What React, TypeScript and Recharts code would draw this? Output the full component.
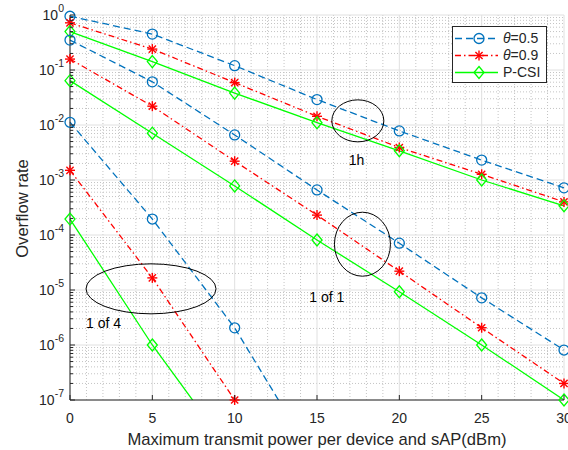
import { CartesianGrid, Legend, Line, LineChart, ReferenceDot, XAxis, YAxis } from 'recharts'

// x: maximum transmit power (dBm)
const power = [0, 5, 10, 15, 20, 25, 30]

// group "1h"
const h1Theta05 = [0.95, 0.45, 0.12, 0.029, 0.0078, 0.0023, 0.00072]
const h1Theta09 = [0.72, 0.24, 0.059, 0.0144, 0.0039, 0.00127, 0.0004]
const h1Pcsi = [0.5, 0.142, 0.038, 0.011, 0.0034, 0.001, 0.00034]

// group "1 of 1"
const o1Theta05 = [0.35, 0.061, 0.0066, 0.00066, 7.1e-5, 7.2e-6, 8.1e-7]
const o1Theta09 = [0.158, 0.022, 0.0022, 2.3e-4, 2.2e-5, 2.06e-6, 2.0e-7]
const o1Pcsi = [0.064, 0.0071, 0.00078, 8.1e-5, 9.3e-6, 1.0e-6, 1.0e-7]

// group "1 of 4" (runs off the bottom of the axes)
const o4Theta05 = [0.0112, 1.95e-4, 2.05e-6, 7e-9, null, null, null]
const o4Theta09 = [1.5e-3, 1.66e-5, 1.0e-7, null, null, null, null]
const o4Pcsi = [1.95e-4, 1.0e-6, 9e-9, null, null, null, null]

const xTicks = [0, 5, 10, 15, 20, 25, 30]
const yTicks = [1e-7, 1e-6, 1e-5, 1e-4, 1e-3, 1e-2, 1e-1, 1]
const yMin = 1e-7

const minorY = yTicks.slice(0, -1).flatMap((t) => [2, 3, 4, 5, 6, 7, 8, 9].map((m) => m * t))
const minorX = Array.from({ length: 31 }, (_, i) => i).filter((v) => v % 5 !== 0)
const allY = [...yTicks, ...minorY].sort((a, b) => a - b)

const AXIS = '#262626'
const FONT = '"Liberation Sans", Arial, Helvetica, sans-serif'

type Kind = 't05' | 't09' | 'pcsi'

const kinds: Record<Kind, { color: string; dash?: string; marker: string }> = {
  t05: { color: '#0072BD', dash: '7 4', marker: 'circle' },
  t09: { color: '#FF0000', dash: '6 3 1.5 3', marker: 'star' },
  pcsi: { color: '#00FF00', marker: 'diamond' },
}

const series: { key: string; kind: Kind; values: (number | null)[] }[] = [
  { key: 'h1t05', kind: 't05', values: h1Theta05 },
  { key: 'h1t09', kind: 't09', values: h1Theta09 },
  { key: 'h1pcsi', kind: 'pcsi', values: h1Pcsi },
  { key: 'o1t05', kind: 't05', values: o1Theta05 },
  { key: 'o1t09', kind: 't09', values: o1Theta09 },
  { key: 'o1pcsi', kind: 'pcsi', values: o1Pcsi },
  { key: 'o4t05', kind: 't05', values: o4Theta05 },
  { key: 'o4t09', kind: 't09', values: o4Theta09 },
  { key: 'o4pcsi', kind: 'pcsi', values: o4Pcsi },
]

const data = power.map((p, i) => {
  const row: Record<string, number | null> = { power: p }
  series.forEach((s) => {
    row[s.key] = s.values[i]
  })
  return row
})

const ellipses = [
  { x: 17.48, y: 0.0119, rx: 26, ry: 21 },
  { x: 17.76, y: 6.8e-5, rx: 28, ry: 32 },
  { x: 4.92, y: 1.05e-5, rx: 65, ry: 25 },
]

const notes = [
  { x: 17.4, y: 2.31e-3, text: '1h' },
  { x: 15.6, y: 7.6e-6, text: '1 of 1' },
  { x: 2.04, y: 2.48e-6, text: '1 of 4' },
]

const legendItems: { kind: Kind; label: React.ReactNode }[] = [
  { kind: 't05', label: <><i>θ</i>=0.5</> },
  { kind: 't09', label: <><i>θ</i>=0.9</> },
  { kind: 'pcsi', label: 'P-CSI' },
]

const isMajor = (v: number) => Math.abs(Math.log10(v) - Math.round(Math.log10(v))) < 1e-6

function Marker({ cx, cy, kind }: { cx?: number; cy?: number; kind: Kind }) {
  if (cx == null || cy == null || Number.isNaN(cx) || Number.isNaN(cy)) return null
  const { color, marker } = kinds[kind]
  if (marker === 'circle') {
    return <circle cx={cx} cy={cy} r={5} fill="none" stroke={color} strokeWidth={1.3} />
  }
  if (marker === 'diamond') {
    return (
      <polygon
        points={`${cx},${cy - 6} ${cx + 5},${cy} ${cx},${cy + 6} ${cx - 5},${cy}`}
        fill="none"
        stroke={color}
        strokeWidth={1.3}
      />
    )
  }
  const s = 5
  const d = 3.6
  return (
    <g stroke={color} strokeWidth={1.4}>
      <line x1={cx - s} x2={cx + s} y1={cy} y2={cy} />
      <line x1={cx} x2={cx} y1={cy - s} y2={cy + s} />
      <line x1={cx - d} x2={cx + d} y1={cy - d} y2={cy + d} />
      <line x1={cx - d} x2={cx + d} y1={cy + d} y2={cy - d} />
    </g>
  )
}

function LeftTick({ x, y, payload }: any) {
  const v = payload.value as number
  const major = isMajor(v)
  return (
    <g>
      <line x1={x} x2={x + (major ? 5 : 3)} y1={y} y2={y} stroke={AXIS} />
      {major && (
        <text x={x - 6} y={y + 5} textAnchor="end" fill={AXIS} fontFamily={FONT} fontSize={14}>
          10
          <tspan dy={-8} fontSize={10.5}>
            {String(Math.round(Math.log10(v)))}
          </tspan>
        </text>
      )}
    </g>
  )
}

function RightTick({ x, y, payload }: any) {
  const major = isMajor(payload.value as number)
  return <line x1={x} x2={x - (major ? 5 : 3)} y1={y} y2={y} stroke={AXIS} />
}

function BottomTick({ x, y, payload }: any) {
  return (
    <g>
      <line x1={x} x2={x} y1={y} y2={y - 5} stroke={AXIS} />
      <text x={x} y={y + 23} textAnchor="middle" fill={AXIS} fontFamily={FONT} fontSize={14}>
        {payload.value}
      </text>
    </g>
  )
}

function TopTick({ x, y }: any) {
  return <line x1={x} x2={x} y1={y} y2={y + 5} stroke={AXIS} />
}

function LegendBox() {
  return (
    <div
      style={{
        boxSizing: 'border-box',
        width: 95,
        height: 57,
        border: `1px solid ${AXIS}`,
        background: '#fff',
        paddingTop: 3,
        fontFamily: FONT,
        fontSize: 14,
        color: AXIS,
      }}
    >
      {legendItems.map((item) => {
        const k = kinds[item.kind]
        return (
          <div key={item.kind} style={{ display: 'flex', alignItems: 'center', height: 17 }}>
            <svg width={50} height={17} style={{ display: 'block' }}>
              <line x1={2} x2={45} y1={8.5} y2={8.5} stroke={k.color} strokeWidth={1.3} strokeDasharray={k.dash} />
              <Marker cx={26} cy={8.5} kind={item.kind} />
            </svg>
            <span style={{ lineHeight: '17px' }}>{item.label}</span>
          </div>
        )
      })}
    </div>
  )
}

export default function App() {
  return (
    <div style={{ position: 'absolute', left: 0, top: 0, background: '#fff' }}>
      <LineChart width={568} height={450} data={data} margin={{ top: 15, right: 4, bottom: 0, left: 0 }}>
        <CartesianGrid horizontalValues={minorY} verticalValues={minorX} stroke="#c4c4c4" strokeDasharray="1 2" />
        <CartesianGrid horizontalValues={yTicks} verticalValues={xTicks} stroke="#e0e0e0" />
        <XAxis
          dataKey="power"
          type="number"
          domain={[0, 30]}
          ticks={xTicks}
          interval={0}
          height={50}
          tickSize={0}
          tickMargin={0}
          tickLine={false}
          tick={<BottomTick />}
          axisLine={{ stroke: AXIS }}
          label={{
            content: ({ viewBox }: any) => (
              <text
                x={viewBox.x + viewBox.width / 2}
                y={viewBox.y + 45}
                textAnchor="middle"
                fill={AXIS}
                fontFamily={FONT}
                fontSize={16.6}
              >
                Maximum transmit power per device and sAP(dBm)
              </text>
            ),
          }}
        />
        <XAxis
          xAxisId="top"
          orientation="top"
          dataKey="power"
          type="number"
          domain={[0, 30]}
          ticks={xTicks}
          interval={0}
          height={0}
          tickSize={0}
          tickMargin={0}
          tickLine={false}
          tick={<TopTick />}
          axisLine={{ stroke: AXIS }}
        />
        <YAxis
          scale="log"
          type="number"
          domain={[yMin, 1]}
          allowDataOverflow
          ticks={allY}
          interval={0}
          width={70}
          tickSize={0}
          tickMargin={0}
          tickLine={false}
          tick={<LeftTick />}
          axisLine={{ stroke: AXIS }}
          label={{
            content: ({ viewBox }: any) => {
              const cx = viewBox.x + 28
              const cy = viewBox.y + viewBox.height / 2 + 1
              return (
                <text
                  x={cx}
                  y={cy}
                  transform={`rotate(-90 ${cx} ${cy})`}
                  textAnchor="middle"
                  fill={AXIS}
                  fontFamily={FONT}
                  fontSize={16.6}
                >
                  Overflow rate
                </text>
              )
            },
          }}
        />
        <YAxis
          yAxisId="r"
          orientation="right"
          scale="log"
          type="number"
          domain={[yMin, 1]}
          ticks={allY}
          interval={0}
          width={0}
          tickSize={0}
          tickMargin={0}
          tickLine={false}
          tick={<RightTick />}
          axisLine={{ stroke: AXIS }}
        />
        {ellipses.map((e, i) => (
          <ReferenceDot
            key={`ell-${i}`}
            x={e.x}
            y={e.y}
            r={0}
            ifOverflow="visible"
            shape={(p: any) => <ellipse cx={p.cx} cy={p.cy} rx={e.rx} ry={e.ry} fill="none" stroke="#000" strokeWidth={1} />}
          />
        ))}
        {notes.map((n, i) => (
          <ReferenceDot
            key={`note-${i}`}
            x={n.x}
            y={n.y}
            r={0}
            ifOverflow="visible"
            shape={(p: any) => (
              <text x={p.cx} y={p.cy + 5} textAnchor="middle" fill="#000" fontFamily={FONT} fontSize={14}>
                {n.text}
              </text>
            )}
          />
        ))}
        {series.map((s) => (
          <Line
            key={s.key}
            dataKey={s.key}
            type="linear"
            stroke={kinds[s.kind].color}
            strokeWidth={1.3}
            strokeDasharray={kinds[s.kind].dash}
            dot={false}
            activeDot={false}
            isAnimationActive={false}
          />
        ))}
        {/* markers on the unclipped right axis so they are not cut at the frame */}
        {series.map((s) => (
          <Line
            key={`${s.key}-m`}
            yAxisId="r"
            dataKey={(d: any) => (d[s.key] != null && d[s.key] >= yMin ? d[s.key] : null)}
            stroke="none"
            legendType="none"
            activeDot={false}
            isAnimationActive={false}
            dot={(p: any) => <Marker key={`${s.key}-dot-${p.index}`} cx={p.cx} cy={p.cy} kind={s.kind} />}
          />
        ))}
        <Legend
          layout="vertical"
          align="center"
          verticalAlign="middle"
          wrapperStyle={{ top: 26, left: 452, width: 95, height: 57 }}
          content={() => <LegendBox />}
        />
      </LineChart>
    </div>
  )
}
